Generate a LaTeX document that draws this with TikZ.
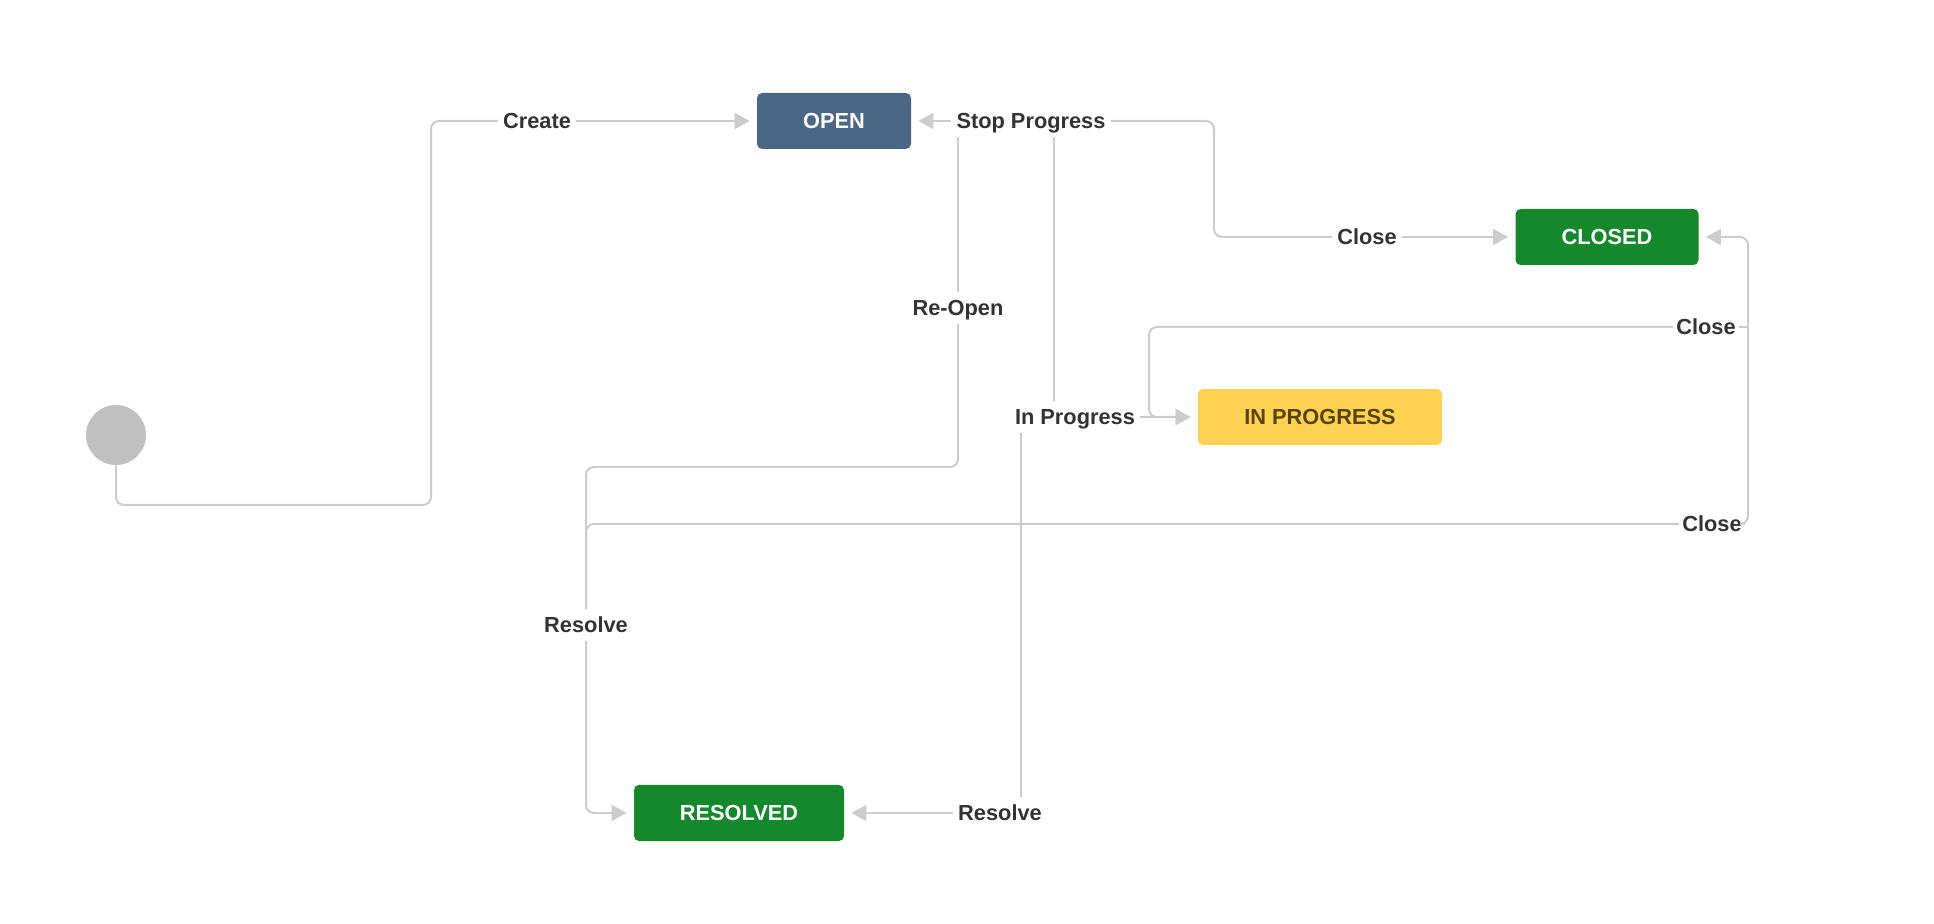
\documentclass[tikz,border=0pt]{standalone}
\usepackage{fontspec}
\setmainfont{Liberation Sans}
\usetikzlibrary{arrows.meta}
\definecolor{linec}{HTML}{CCCCCC}
\definecolor{txt}{HTML}{333333}
\definecolor{openc}{HTML}{4A6785}
\definecolor{greenc}{HTML}{14892C}
\definecolor{yellowc}{HTML}{FFD351}
\definecolor{yellowt}{HTML}{594300}
\definecolor{startc}{HTML}{C0C0C0}
\begin{document}
\begin{tikzpicture}[x=0.5pt,y=-0.5pt,
  conn/.style={draw=linec,line width=1pt,rounded corners=4pt},
  arr/.style={conn,-{Triangle[length=7.5pt,width=8pt]},shorten >=3.5pt},
  state/.style={rounded corners=2.5pt,minimum height=28pt,inner sep=0pt,font=\bfseries\fontsize{10.9}{13}\selectfont,text=white,text height=7.8pt,text depth=0pt},
  lbl/.style={font=\bfseries\fontsize{10.9}{13}\selectfont,text=txt,inner xsep=2.5pt,inner ysep=4pt,text height=7.8pt,text depth=0pt}]
\useasboundingbox (0,0) rectangle (1934,924);

% states
\node[circle,fill=startc,minimum size=30pt,inner sep=0pt] (start) at (116,435) {};
\node[state,fill=openc,minimum width=77pt] (open) at (834,121) {OPEN};
\node[state,fill=greenc,minimum width=91.5pt] (closed) at (1607,237) {CLOSED};
\node[state,fill=yellowc,text=yellowt,minimum width=122pt] (inprog) at (1320,417) {IN PROGRESS};
\node[state,fill=greenc,minimum width=105pt] (resolved) at (739,813) {RESOLVED};

% transition labels
\node[lbl] (create) at (537,121) {Create};
\node[lbl] (sp) at (1031,121) {Stop Progress};
\node[lbl] (close1) at (1367,237) {Close};
\node[lbl] (reopen) at (958,308) {Re-Open};
\node[lbl] (ip) at (1075,417) {In Progress};
\node[lbl,inner xsep=1.5pt] (close2) at (1706,327) {Close};
\node[lbl,inner xsep=1.5pt] (close3) at (1712,524) {Close};
\node[lbl] (resL) at (586,625) {Resolve};
\node[lbl] (resR) at (1000,813) {Resolve};

% corner coordinates
\coordinate (c1) at (116,505);
\coordinate (c2) at (431,505);
\coordinate (c3) at (431,121);
\coordinate (s1) at (1214,121);
\coordinate (s2) at (1214,237);
\coordinate (r1) at (958,467);
\coordinate (r2) at (586,467);
\coordinate (q1) at (586,524);
\coordinate (v1) at (586,813);
\coordinate (ipv) at (1054,0);
\coordinate (resv) at (1021,0);
\coordinate (m1) at (1149,327);
\coordinate (m2) at (1149,417);
\coordinate (k1) at (1748,327);
\coordinate (k2) at (1748,524);
\coordinate (k3) at (1748,237);

% Create
\draw[conn] (start) -- (c1) -- (c2) -- (c3) -- (create);
\draw[arr] (create) -- (open);
% Stop Progress / Close
\draw[arr] (sp) -- (open);
\draw[conn] (sp) -- (s1) -- (s2) -- (close1);
\draw[arr] (close1) -- (closed);
% Re-Open
\draw[conn] (reopen) -- (reopen |- sp.south);
\draw[conn] (reopen) -- (r1) -- (r2) -- (resL);
% In Progress
\draw[conn] (ip.north -| ipv) -- (ipv |- sp.south);
\draw[arr] (ip) -- (inprog);
% Close (middle)
\draw[arr] (close2) -- (m1) -- (m2) -- (inprog);
\draw[conn] (close2) -- (k1);
% Close (lower)
\draw[arr] (close3) -- (k2) -- (k3) -- (closed);
\draw[conn] (close3) -- (q1) -- (resL);
% Resolve
\draw[arr] (resL) -- (v1) -- (resolved);
\draw[conn] (ip.south -| resv) -- (resv |- resR.north);
\draw[arr] (resR) -- (resolved);
\end{tikzpicture}
\end{document}
